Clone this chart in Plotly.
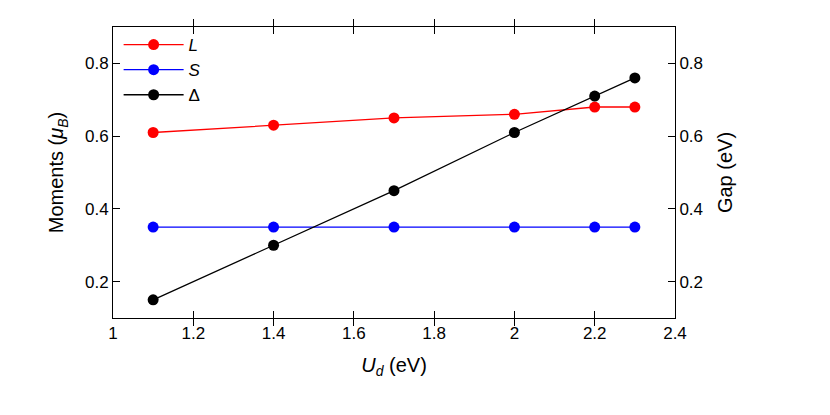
import plotly.graph_objects as go

# data
u_d = [1.1, 1.4, 1.7, 2.0, 2.2, 2.3]
moment_L = [0.61, 0.63, 0.65, 0.66, 0.68, 0.68]
moment_S = [0.35, 0.35, 0.35, 0.35, 0.35, 0.35]
gap = [0.15, 0.30, 0.45, 0.61, 0.71, 0.76]

fig = go.Figure()

fig.add_trace(go.Scatter(x=u_d, y=moment_L, name='<i>L</i>', mode='lines+markers',
                         line=dict(color='#ff0000', width=1.3),
                         marker=dict(color='#ff0000', size=11)))
fig.add_trace(go.Scatter(x=u_d, y=moment_S, name='<i>S</i>', mode='lines+markers',
                         line=dict(color='#0000ff', width=1.3),
                         marker=dict(color='#0000ff', size=11)))
fig.add_trace(go.Scatter(x=u_d, y=gap, name='Δ', mode='lines+markers', yaxis='y2',
                         line=dict(color='#000000', width=1.3),
                         marker=dict(color='#000000', size=11)))

axis_style = dict(showgrid=False, zeroline=False, linecolor='black', linewidth=1,
                  ticks='inside', ticklen=7, tickcolor='black',
                  tickfont=dict(size=17, color='black'))

fig.update_layout(
    width=830, height=415,
    plot_bgcolor='white', paper_bgcolor='white',
    font=dict(family='Liberation Sans, Arial', size=17, color='black'),
    margin=dict(l=105, r=163, t=19, b=105),
    showlegend=True,
    legend=dict(x=0.01, y=1.0, xanchor='left', yanchor='top', bgcolor='rgba(0,0,0,0)',
                font=dict(size=17), tracegroupgap=0, itemwidth=60),
    xaxis=dict(range=[1, 2.4], dtick=0.2, mirror='allticks', title=dict(text='<i>U<sub>d</sub></i> (eV)'),
               **axis_style),
    yaxis=dict(range=[0.1, 0.9], tickvals=[0.2, 0.4, 0.6, 0.8], mirror=True,
               title=dict(text='Moments (<i>μ<sub>B</sub></i>)'), **axis_style),
    yaxis2=dict(range=[0.1, 0.9], tickvals=[0.2, 0.4, 0.6, 0.8], overlaying='y', side='right',
                title=dict(text='Gap (eV)'), **axis_style),
)

fig.write_html("out.html")
